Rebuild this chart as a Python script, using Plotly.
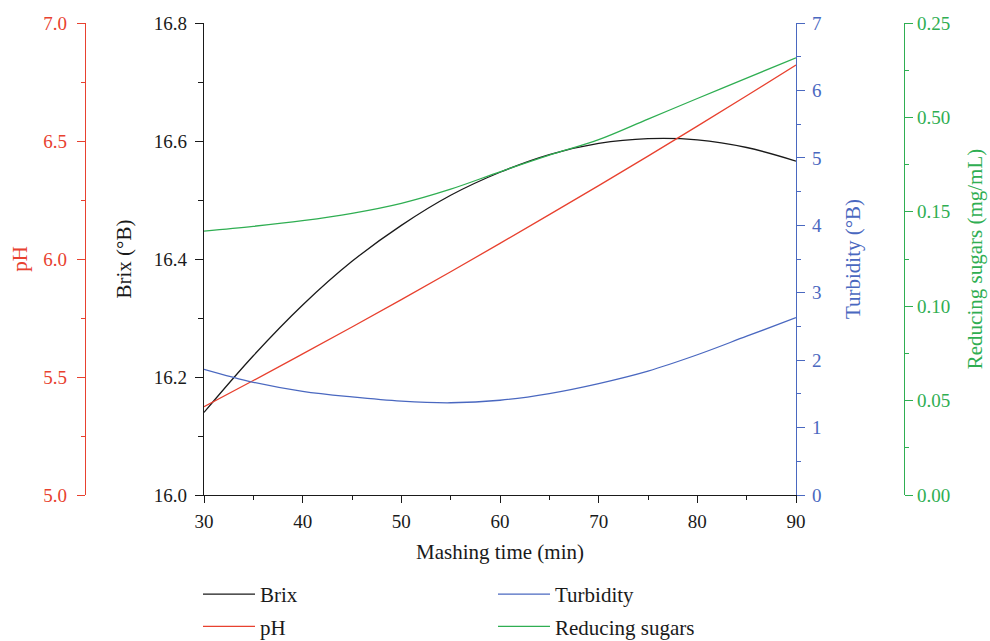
import plotly.graph_objects as go

time_min = [30, 35, 40, 45, 50, 55, 60, 65, 70, 75, 80, 85, 90]
brix = [16.140, 16.236, 16.322, 16.396, 16.457, 16.508, 16.547, 16.577, 16.596, 16.604, 16.602, 16.589, 16.566]
ph = [5.374, 5.485, 5.598, 5.712, 5.828, 5.946, 6.066, 6.188, 6.311, 6.436, 6.563, 6.692, 6.822]
turbidity = [1.864, 1.672, 1.538, 1.455, 1.392, 1.368, 1.405, 1.505, 1.653, 1.838, 2.080, 2.355, 2.630]
reducing_sugars = [0.1398, 0.1423, 0.1453, 0.1492, 0.1545, 0.1620, 0.1712, 0.1800, 0.1882, 0.1991, 0.2100, 0.2208, 0.2316]

rs_tickvals = [0.00, 0.05, 0.10, 0.15, 0.20, 0.25]
rs_ticktext = ["0.00", "0.05", "0.10", "0.15", "0.50", "0.25"]

BLACK = "#1a1a1a"
RED = "#e8412f"
BLUE = "#4a68c0"
GREEN = "#2fae52"
FONT = "Liberation Serif"
TICK_FS = 19
TITLE_FS = 21

W, H = 990, 641
x0, x1 = 204 / W, 796 / W
y0, y1 = (H - 495) / H, (H - 23) / H

fig = go.Figure()
fig.add_trace(go.Scatter(x=time_min, y=brix, name="Brix", mode="lines",
                         line=dict(color=BLACK, width=1.3, shape="spline"),
                         yaxis="y", legend="legend", legendgroup="a"))
fig.add_trace(go.Scatter(x=time_min, y=ph, name="pH", mode="lines",
                         line=dict(color=RED, width=1.3, shape="spline"),
                         yaxis="y2", legend="legend", legendgroup="b"))
fig.add_trace(go.Scatter(x=time_min, y=turbidity, name="Turbidity", mode="lines",
                         line=dict(color=BLUE, width=1.3, shape="spline"),
                         yaxis="y3", legend="legend2", legendgroup="c"))
fig.add_trace(go.Scatter(x=time_min, y=reducing_sugars, name="Reducing sugars", mode="lines",
                         line=dict(color=GREEN, width=1.3, shape="spline"),
                         yaxis="y4", legend="legend2", legendgroup="d"))


def yax(color, **kw):
    d = dict(showgrid=False, zeroline=False, showline=True, linecolor=color, linewidth=1.3,
             ticks="outside", ticklen=8, tickwidth=1.3, tickcolor=color,
             tickfont=dict(family=FONT, size=TICK_FS, color=color),
             automargin=False, domain=[y0, y1])
    d.update(kw)
    return d


def ttl(text, color, standoff):
    return dict(text=text, font=dict(family=FONT, size=TITLE_FS, color=color), standoff=standoff)


fig.update_layout(
    width=W, height=H,
    margin=dict(l=0, r=0, t=0, b=0, autoexpand=False),
    paper_bgcolor="white", plot_bgcolor="white",
    font=dict(family=FONT, size=TITLE_FS, color=BLACK),
    xaxis=dict(domain=[x0, x1], range=[30, 90], dtick=10, showgrid=False, zeroline=False,
               showline=True, linecolor=BLACK, linewidth=1.3,
               ticks="outside", ticklen=7, tickwidth=1.3, tickcolor=BLACK,
               minor=dict(dtick=5, ticks="outside", ticklen=4, tickcolor=BLACK, tickwidth=1.3),
               tickfont=dict(family=FONT, size=TICK_FS, color=BLACK),
               ticklabelstandoff=2,
               title=ttl("Mashing time (min)", BLACK, 13),
               anchor="y", automargin=False),
    yaxis=yax(BLACK, range=[16.0, 16.8], dtick=0.2, tickformat=".1f", anchor="x", side="left",
              ticklabelstandoff=4,
              minor=dict(dtick=0.1, ticks="outside", ticklen=5, tickcolor=BLACK, tickwidth=1.3),
              title=ttl("Brix (°B)", BLACK, 16)),
    yaxis2=yax(RED, range=[5.0, 7.0], dtick=0.5, tickformat=".1f", overlaying="y", anchor="free",
               position=85 / W, side="left", ticklabelstandoff=6,
               minor=dict(dtick=0.25, ticks="outside", ticklen=4, tickcolor=RED, tickwidth=1.3),
               title=ttl("pH", RED, 8)),
    yaxis3=yax(BLUE, range=[0, 7], dtick=1, overlaying="y", anchor="x", side="right",
               ticklabelstandoff=3,
               minor=dict(dtick=0.5, ticks="outside", ticklen=4, tickcolor=BLUE, tickwidth=1.3),
               title=ttl("Turbidity (°B)", BLUE, 24)),
    yaxis4=yax(GREEN, range=[0, 0.25], tickmode="array", tickvals=rs_tickvals, ticktext=rs_ticktext,
               overlaying="y", anchor="free", position=904 / W, side="right",
               minor=dict(dtick=0.025, ticks="outside", ticklen=4, tickcolor=GREEN, tickwidth=1.3),
               title=ttl("Reducing sugars (mg/mL)", GREEN, 18)),
    legend=dict(x=198 / W, y=(H - 574) / H, xanchor="left", yanchor="top", orientation="v",
                font=dict(family=FONT, size=TITLE_FS, color=BLACK), tracegroupgap=2,
                itemwidth=52, bgcolor="rgba(0,0,0,0)", borderwidth=0),
    legend2=dict(x=493 / W, y=(H - 574) / H, xanchor="left", yanchor="top", orientation="v",
                 font=dict(family=FONT, size=TITLE_FS, color=BLACK), tracegroupgap=2,
                 itemwidth=52, bgcolor="rgba(0,0,0,0)", borderwidth=0),
)

fig.write_html("out.html")
